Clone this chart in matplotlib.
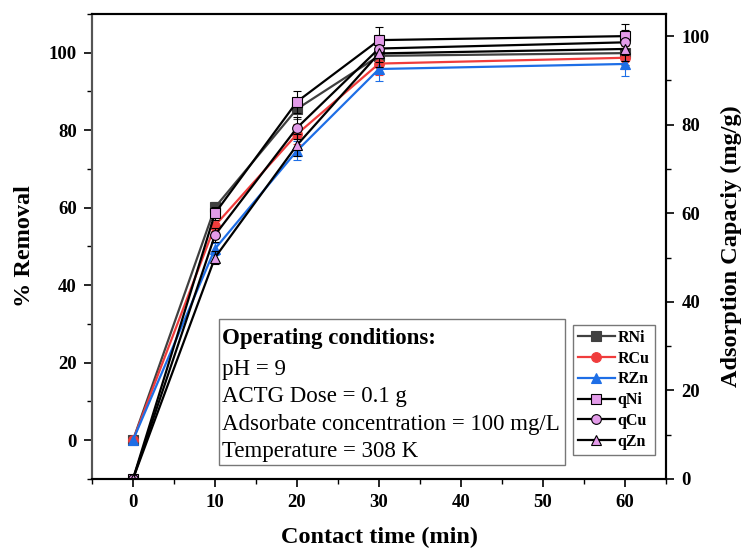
import matplotlib
matplotlib.use('Agg')
import matplotlib.pyplot as plt
import matplotlib as mpl
from matplotlib.patches import Rectangle
from matplotlib.ticker import MultipleLocator

#%% Data
time_min = [0, 10, 20, 30, 60]

# % removal (left axis)
r_ni = [0, 60.1, 85.5, 99.2, 99.9]
r_cu = [0, 55.4, 79.0, 97.2, 98.7]
r_zn = [0, 49.4, 74.7, 95.8, 97.1]
r_err = [0, 1.5, 2.5, 3.0, 3.0]

# adsorption capacity mg/g (right axis)
q_ni = [0, 60.0, 85.2, 99.1, 100.0]
q_cu = [0, 55.1, 79.3, 97.2, 98.6]
q_zn = [0, 50.0, 75.4, 96.1, 97.1]
q_err = [0, 1.5, 2.5, 3.0, 2.8]

series_names = ['RNi', 'RCu', 'RZn', 'qNi', 'qCu', 'qZn']
conditions = ['pH = 9', 'ACTG Dose = 0.1 g',
              'Adsorbate concentration = 100 mg/L', 'Temperature = 308 K']

#%% Style
mpl.rcParams['font.family'] = ['Liberation Serif', 'DejaVu Serif']

violet = '#e39be9'
fig = plt.figure(figsize=(7.42, 5.53), dpi=100)
ax = fig.add_axes([0.124, 0.134, 0.7736, 0.8407])
ax2 = ax.twinx()

def plot_series(a, y, err, color, marker, mfc):
    c = a.errorbar(time_min, y, yerr=err, color=color, lw=1.6, marker=marker,
                   markersize=7, markerfacecolor=mfc, markeredgecolor=color,
                   markeredgewidth=0.8, elinewidth=0.8, capsize=3, capthick=0.8,
                   ecolor=color)
    return c[0]

lines = []
lines.append(plot_series(ax, r_ni, r_err, '#404040', 's', '#404040'))
lines.append(plot_series(ax, r_cu, r_err, '#f03c3c', 'o', '#f03c3c'))
lines.append(plot_series(ax, r_zn, r_err, '#1e6ee6', '^', '#1e6ee6'))
lines.append(plot_series(ax2, q_ni, q_err, 'black', 's', violet))
lines.append(plot_series(ax2, q_cu, q_err, 'black', 'o', violet))
lines.append(plot_series(ax2, q_zn, q_err, 'black', '^', violet))

ax.set_xlim(-5, 65)
ax.set_ylim(-10, 110)
ax2.set_ylim(0, 105)

ax.xaxis.set_major_locator(MultipleLocator(10))
ax.xaxis.set_minor_locator(MultipleLocator(5))
ax.yaxis.set_minor_locator(MultipleLocator(10))
ax2.yaxis.set_major_locator(MultipleLocator(20))
ax2.yaxis.set_minor_locator(MultipleLocator(10))
ax.set_yticks([0, 20, 40, 60, 80, 100])

for a in (ax, ax2):
    a.tick_params(which='major', direction='out', length=6, width=1.2, pad=5,
                  labelsize=13.5)
    a.tick_params(which='minor', direction='out', length=3.5, width=1.0)
    for lab in a.get_xticklabels() + a.get_yticklabels():
        lab.set_fontweight('bold')
    for sp in a.spines.values():
        sp.set_linewidth(1.5)
ax.spines['left'].set_color('#555555')
ax2.spines['left'].set_color('#555555')

ax.set_xlabel('Contact time (min)', fontsize=17.5, fontweight='bold', labelpad=11)
ax.set_ylabel('% Removal', fontsize=17.5, fontweight='bold', labelpad=10)
ax2.set_ylabel('Adsorption Capaciy (mg/g)', fontsize=17.5, fontweight='bold',
               labelpad=8)

#%% Operating conditions box
ax.add_patch(Rectangle((0.221, 0.030), 0.603, 0.314, transform=ax.transAxes,
                       facecolor='white', edgecolor='#777777', lw=1.0, zorder=5))
ax.text(0.226, 0.325, 'Operating conditions:', transform=ax.transAxes,
        fontsize=16.5, fontweight='bold', va='top', ha='left', zorder=6)
ax.text(0.226, 0.258, '\n'.join(conditions), transform=ax.transAxes,
        fontsize=16.5, va='top', ha='left', linespacing=1.4, zorder=6)

#%% Legend
leg = ax2.legend(lines, series_names, loc='upper left',
                 bbox_to_anchor=(0.838, 0.331), borderaxespad=0, fancybox=False,
                 edgecolor='#777777', prop={'weight': 'bold', 'size': 11.5},
                 handlelength=2.3, handletextpad=0.2, labelspacing=0.3,
                 borderpad=0.3, framealpha=1)
leg.get_frame().set_linewidth(1.0)

fig.savefig('out.png', dpi=100)
